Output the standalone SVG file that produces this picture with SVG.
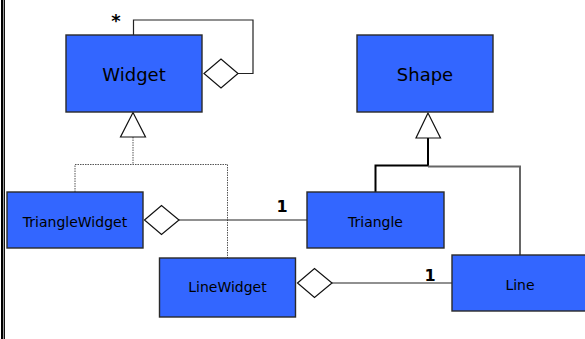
<svg xmlns="http://www.w3.org/2000/svg" width="585" height="339" viewBox="0 0 585 339">
  <style>
    .cls { fill: #3366ff; stroke: #2a2a2a; stroke-width: 1.4; }
    .name { font-family: "Comic Sans MS", "DejaVu Sans", sans-serif; fill: #000; text-anchor: middle; }
    .big { font-size: 18px; }
    .small { font-size: 14px; }
    .mult { font-family: "DejaVu Sans", sans-serif; font-size: 16px; font-weight: bold; fill: #000; text-anchor: middle; }
    .star { font-family: "DejaVu Sans", sans-serif; font-size: 18px; font-weight: bold; fill: #000; text-anchor: middle; }
    .assoc { fill: none; stroke: #222; stroke-width: 1.2; }
    .dotted { fill: none; stroke: #555; stroke-width: 1; stroke-dasharray: 1.5 1; }
    .inh { fill: none; stroke: #000; stroke-width: 2; }
    .inh-gray { fill: none; stroke: #666; stroke-width: 2; }
    .head { fill: #fff; stroke: #111; stroke-width: 1.2; }
  </style>

  <rect width="585" height="339" fill="#fff"/>
  <!-- left frame edge -->
  <rect x="1" y="0" width="2" height="339" fill="#000"/>
  <rect x="3" y="0" width="1" height="339" fill="#999"/>
  <rect x="4" y="0" width="1" height="339" fill="#111"/>

  <g id="connectors">
    <!-- Widget self-aggregation -->
    <polyline class="assoc" points="133.5,35 133.5,20 253,20 253,73.5 238,73.5"/>
    <polygon class="head" points="204,73.5 221,59 238,73.5 221,88"/>
    <text class="star" x="116" y="27">*</text>

    <!-- Widget generalization (dotted) -->
    <polyline class="dotted" points="133,137 133,164.5"/>
    <polyline class="dotted" points="75,192 75,164.5 227.5,164.5 227.5,258"/>
    <polygon class="head" points="133,112.5 120.5,137 145.5,137"/>

    <!-- Shape generalization -->
    <polyline class="inh" points="428,138 428,165.5 375.5,165.5 375.5,192"/>
    <polyline class="inh-gray" points="428,166.5 520,166.5 520,255"/>
    <polygon class="head" points="428,113 416,138 440.5,138"/>

    <!-- TriangleWidget to Triangle -->
    <line class="assoc" x1="179" y1="220" x2="307" y2="220"/>
    <polygon class="head" points="144.5,220 161.5,205.5 179,220 161.5,234.5"/>
    <text class="mult" x="282" y="212">1</text>

    <!-- LineWidget to Line -->
    <line class="assoc" x1="332" y1="283" x2="452" y2="283"/>
    <polygon class="head" points="297.5,283 314.5,268.5 332,283 314.5,297.5"/>
    <text class="mult" x="430" y="281">1</text>
  </g>

  <g id="widget">
    <rect class="cls" x="66" y="35" width="136" height="77"/>
    <text class="name big" x="134" y="81">Widget</text>
  </g>

  <g id="shape">
    <rect class="cls" x="357" y="35" width="136" height="77"/>
    <text class="name big" x="425" y="81">Shape</text>
  </g>

  <g id="triangle-widget">
    <rect class="cls" x="7" y="192" width="136" height="56"/>
    <text class="name small" x="75" y="227">TriangleWidget</text>
  </g>

  <g id="triangle">
    <rect class="cls" x="307" y="192" width="137" height="56"/>
    <text class="name small" x="375.5" y="227">Triangle</text>
  </g>

  <g id="line-widget">
    <rect class="cls" x="159.5" y="258" width="136" height="59"/>
    <text class="name small" x="227.5" y="292">LineWidget</text>
  </g>

  <g id="line">
    <rect class="cls" x="452" y="255" width="137" height="56"/>
    <text class="name small" x="520" y="289.5">Line</text>
  </g>
</svg>
